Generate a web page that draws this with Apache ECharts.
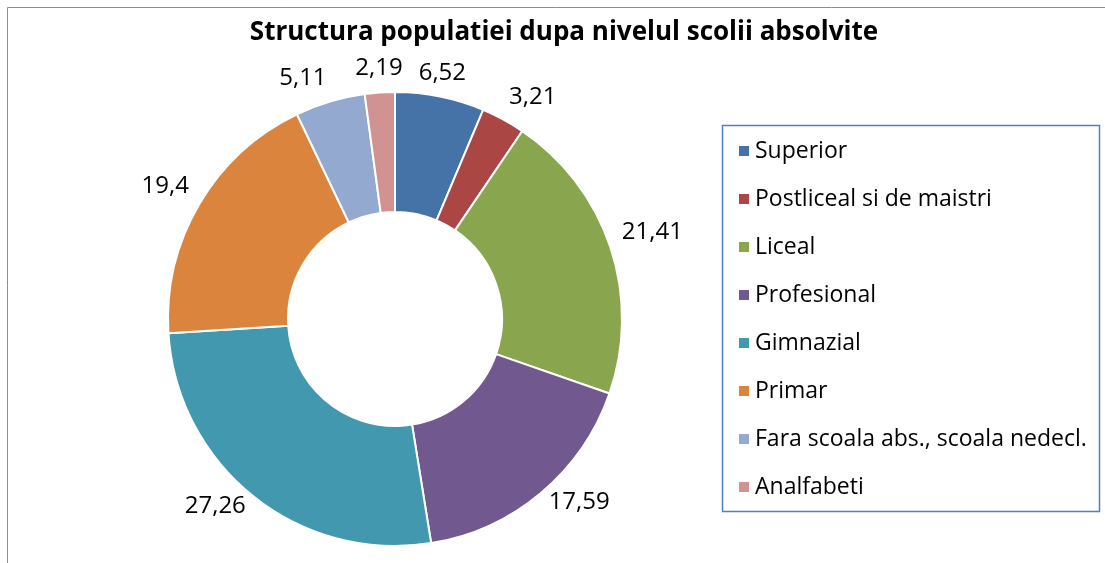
<!DOCTYPE html>
<html>
<head>
<meta charset="utf-8">
<script src="https://cdn.jsdelivr.net/npm/echarts@6/dist/echarts.min.js"></script>
<style>
  html, body { margin: 0; padding: 0; background: #fff; }
  #chart { width: 1105px; height: 563px; }
</style>
</head>
<body>
<div id="chart"></div>
<script>
// date
var categorii = ['Superior', 'Postliceal si de maistri', 'Liceal', 'Profesional', 'Gimnazial', 'Primar', 'Fara scoala abs., scoala nedecl.', 'Analfabeti'];
var valori = [6.52, 3.21, 21.41, 17.59, 27.26, 19.4, 5.11, 2.19];
var culori = ['#4573a7', '#aa4644', '#89a54e', '#71588f', '#4198af', '#db843d', '#93a9cf', '#d19392'];

(function () {
	var chart = echarts.init(document.getElementById('chart'));
	var cx = 395, cy = 319, rOut = 227, rIn = 107;
	var total = 0;
	valori.forEach(function (v) { total += v; });
	var prag = Math.sin(15 * Math.PI / 180);

	var option = {
		backgroundColor: '#fff',
		color: culori,
		title: {
			text: 'Structura populatiei dupa nivelul scolii absolvite',
			left: 559,
			top: 15,
			textAlign: 'center',
			textStyle: { fontFamily: 'Open Sans', fontWeight: 'bold', fontSize: 26, color: '#000' }
		},
		// chenar exterior + chenar legenda
		graphic: [
			{ type: 'rect', shape: { x: 7.5, y: 7.5, width: 1200, height: 600 }, style: { fill: null, stroke: '#8c8c8c', lineWidth: 1 }, silent: true },
			{ type: 'rect', shape: { x: 722.5, y: 125.5, width: 377, height: 386 }, style: { fill: null, stroke: '#4f81bd', lineWidth: 1.5 }, silent: true }
		],
		legend: {
			orient: 'vertical',
			left: 737,
			top: 139,
			padding: 0,
			icon: 'rect',
			itemWidth: 12,
			itemHeight: 12,
			itemGap: 24,
			textStyle: { fontFamily: 'Open Sans', fontSize: 23, lineHeight: 24, color: '#000' },
			data: categorii
		},
		series: [
			{
				type: 'pie',
				center: [cx, cy],
				radius: [rIn, rOut],
				startAngle: 90,
				clockwise: true,
				avoidLabelOverlap: false,
				itemStyle: { borderColor: '#fff', borderWidth: 2 },
				label: {
					show: true,
					position: 'outside',
					fontFamily: 'Open Sans',
					fontSize: 24,
					color: '#000',
					formatter: function (p) { return String(p.value).replace('.', ','); }
				},
				labelLine: { show: false },
				// eticheta lipita de inel pe unghiul median al feliei (ca in Excel)
				labelLayout: function (p) {
					var inainte = 0;
					for (var i = 0; i < p.dataIndex; i++) inainte += valori[i];
					var th = (inainte + valori[p.dataIndex] / 2) / total * Math.PI * 2;
					var s = Math.sin(th), c = Math.cos(th);
					var w = p.labelRect.width, h = p.labelRect.height;
					var a = rOut + 12;
					var ox = Math.abs(s) < prag ? 0 : (s > 0 ? 1 : -1) * w / 2;
					var oy = (Math.abs(c) < prag || c < 0) ? 0 : -h / 2;
					return { x: cx + a * s + ox, y: cy - a * c + oy, align: 'center', verticalAlign: 'middle' };
				},
				data: categorii.map(function (n, i) { return { name: n, value: valori[i] }; })
			}
		]
	};
	chart.setOption(option);
})();
</script>
</body>
</html>
